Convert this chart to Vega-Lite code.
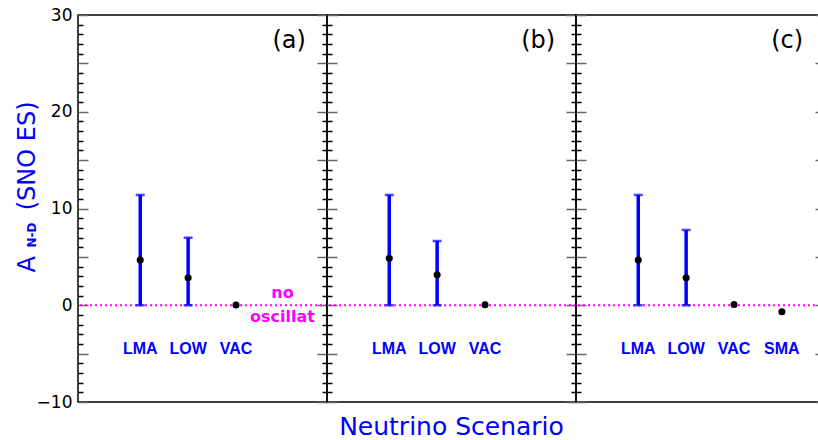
{
  "$schema": "https://vega.github.io/schema/vega-lite/v6.json",
  "autosize": {"type": "none"},
  "padding": {"left": 78, "top": 15, "right": 740, "bottom": 425},
  "background": "white",
  "config": {"view": {"stroke": "#000000", "strokeWidth": 1.5}, "font": "DejaVu Sans"},
  "title": {"text": "Neutrino Scenario", "orient": "bottom", "anchor": "middle", "frame": "group", "dx": 373.5, "color": "#0000ff", "font": "DejaVu Sans", "fontSize": 25, "fontWeight": "normal", "offset": 4},
  "spacing": 0,
  "bounds": "flush",
  "datasets": {
    "scen": [
      {"panel": "a", "scen": "LMA", "x": 1, "val": 4.68, "lo": 0, "hi": 11.4},
      {"panel": "a", "scen": "LOW", "x": 2, "val": 2.85, "lo": 0, "hi": 6.98},
      {"panel": "a", "scen": "VAC", "x": 3, "val": 0.03, "lo": null, "hi": null},
      {"panel": "b", "scen": "LMA", "x": 1, "val": 4.85, "lo": 0, "hi": 11.4},
      {"panel": "b", "scen": "LOW", "x": 2, "val": 3.16, "lo": 0, "hi": 6.64},
      {"panel": "b", "scen": "VAC", "x": 3, "val": 0.06, "lo": null, "hi": null},
      {"panel": "c", "scen": "LMA", "x": 1, "val": 4.68, "lo": 0, "hi": 11.4},
      {"panel": "c", "scen": "LOW", "x": 2, "val": 2.85, "lo": 0, "hi": 7.78},
      {"panel": "c", "scen": "VAC", "x": 3, "val": 0.08, "lo": null, "hi": null},
      {"panel": "c", "scen": "SMA", "x": 4, "val": -0.67, "lo": null, "hi": null}
    ],
    "panels": [
      {"panel": "a", "letter": "(a)"},
      {"panel": "b", "letter": "(b)"},
      {"panel": "c", "letter": "(c)"}
    ],
    "ref": [{"level": 0}],
    "notes": [{"note": "no\noscillat"}],
    "sub": [{"sub": "N-D"}]
  },
  "hconcat": [
    {
      "width": 249, "height": 387,
      "data": {"name": "scen"},
      "resolve": {"axis": {"y": "independent"}},
      "layer": [
        {
          "data": {"name": "ref"},
          "mark": {"type": "rule", "color": "#ff00ff", "strokeDash": [2, 3], "strokeWidth": 2},
          "encoding": {
            "y": {"field": "level", "type": "quantitative", "scale": {"domain": [-10, 30], "nice": false, "zero": false},
              "axis": {"orient": "left", "values": [-10,-9,-8,-7,-6,-5,-4,-3,-2,-1,0,1,2,3,4,5,6,7,8,9,10,11,12,13,14,15,16,17,18,19,20,21,22,23,24,25,26,27,28,29,30],
                "tickSize": {"condition": {"test": "datum.value % 5 === 0", "value": -10}, "value": -5},
                "tickColor": {"condition": {"test": "datum.value % 5 === 0", "value": "#666666"}, "value": "#000000"},
                "tickWidth": 1.5, "domain": false, "grid": false,
                "labelExpr": "datum.value % 10 === 0 ? datum.label : ''",
                "labelPadding": 16, "labelFont": "DejaVu Sans", "labelFontSize": 17, "labelColor": "#000000",
                "labelOverlap": false, "labelFlush": false, "labelBound": false,
                "title": "A\u00a0\u00a0\u00a0\u00a0\u00a0\u00a0(SNO ES)", "titleFont": "DejaVu Sans", "titleFontSize": 24, "titleFontWeight": "normal",
                "titleColor": "#0000ff", "titleAngle": 270, "titleX": -44, "titleY": 171.5, "titleAlign": "center", "titleBaseline": "alphabetic"}}
          }
        },
        {
          "transform": [{"filter": "datum.panel === 'a' && datum.hi != null"}],
          "mark": {"type": "rule", "color": "#0000ff", "strokeWidth": 3.5},
          "encoding": {
            "x": {"field": "x", "type": "quantitative", "scale": {"domain": [-0.3, 4.9], "nice": false, "zero": false}, "axis": null},
            "y": {"field": "lo", "type": "quantitative", "scale": {"domain": [-10, 30], "nice": false, "zero": false},
              "axis": {"orient": "right", "values": [-10,-9,-8,-7,-6,-5,-4,-3,-2,-1,0,1,2,3,4,5,6,7,8,9,10,11,12,13,14,15,16,17,18,19,20,21,22,23,24,25,26,27,28,29,30],
                "tickSize": {"condition": {"test": "datum.value % 5 === 0", "value": -10}, "value": -5},
                "tickColor": {"condition": {"test": "datum.value % 5 === 0", "value": "#666666"}, "value": "#000000"},
                "tickWidth": 1.5, "domain": false, "grid": false, "labels": false, "title": null}},
            "y2": {"field": "hi"}
          }
        },
        {
          "transform": [{"filter": "datum.panel === 'a' && datum.hi != null"}],
          "mark": {"type": "tick", "orient": "horizontal", "color": "#0000ff", "size": 9, "thickness": 2.5},
          "encoding": {
            "x": {"field": "x", "type": "quantitative", "scale": {"domain": [-0.3, 4.9], "nice": false, "zero": false}, "axis": null},
            "y": {"field": "hi", "type": "quantitative", "scale": {"domain": [-10, 30], "nice": false, "zero": false}, "axis": null}
          }
        },
        {
          "transform": [{"filter": "datum.panel === 'a' && datum.hi != null"}],
          "mark": {"type": "tick", "orient": "horizontal", "color": "#0000ff", "size": 9, "thickness": 2.5},
          "encoding": {
            "x": {"field": "x", "type": "quantitative", "scale": {"domain": [-0.3, 4.9], "nice": false, "zero": false}, "axis": null},
            "y": {"field": "lo", "type": "quantitative", "scale": {"domain": [-10, 30], "nice": false, "zero": false}, "axis": null}
          }
        },
        {
          "transform": [{"filter": "datum.panel === 'a'"}],
          "mark": {"type": "circle", "color": "#000000", "size": 50, "opacity": 1},
          "encoding": {
            "x": {"field": "x", "type": "quantitative", "scale": {"domain": [-0.3, 4.9], "nice": false, "zero": false}, "axis": null},
            "y": {"field": "val", "type": "quantitative", "scale": {"domain": [-10, 30], "nice": false, "zero": false}, "axis": null}
          }
        },
        {
          "transform": [{"filter": "datum.panel === 'a'"}],
          "mark": {"type": "text", "color": "#0000ff", "font": "Liberation Sans", "fontWeight": "bold", "fontSize": 16, "baseline": "alphabetic", "align": "center"},
          "encoding": {
            "x": {"field": "x", "type": "quantitative", "scale": {"domain": [-0.3, 4.9], "nice": false, "zero": false}, "axis": null},
            "y": {"datum": -5.04, "type": "quantitative", "scale": {"domain": [-10, 30], "nice": false, "zero": false}, "axis": null},
            "text": {"field": "scen"}
          }
        },
        {
          "data": {"name": "panels"},
          "transform": [{"filter": "datum.panel === 'a'"}],
          "mark": {"type": "text", "color": "#000000", "font": "DejaVu Sans", "fontSize": 24, "baseline": "alphabetic", "align": "center"},
          "encoding": {
            "x": {"datum": 4.11, "type": "quantitative", "scale": {"domain": [-0.3, 4.9], "nice": false, "zero": false}, "axis": null},
            "y": {"datum": 26.59, "type": "quantitative", "scale": {"domain": [-10, 30], "nice": false, "zero": false}, "axis": null},
            "text": {"field": "letter"}
          }
        },
        {
          "data": {"name": "notes"},
          "mark": {"type": "text", "color": "#ff00ff", "font": "DejaVu Sans", "fontWeight": "bold", "fontSize": 16, "baseline": "alphabetic", "align": "center", "lineBreak": "\n", "lineHeight": 24},
          "encoding": {
            "x": {"datum": 3.97, "type": "quantitative", "scale": {"domain": [-0.3, 4.9], "nice": false, "zero": false}, "axis": null},
            "y": {"datum": 0.75, "type": "quantitative", "scale": {"domain": [-10, 30], "nice": false, "zero": false}, "axis": null},
            "text": {"field": "note"}
          }
        },
        {
          "data": {"name": "sub"},
          "mark": {"type": "text", "color": "#0000ff", "font": "DejaVu Sans", "fontWeight": "bold", "fontSize": 12, "angle": 270, "baseline": "middle", "align": "center"},
          "encoding": {
            "x": {"datum": -1.26, "type": "quantitative", "scale": {"domain": [-0.3, 4.9], "nice": false, "zero": false}, "axis": null},
            "y": {"datum": 7.26, "type": "quantitative", "scale": {"domain": [-10, 30], "nice": false, "zero": false}, "axis": null},
            "text": {"field": "sub"}
          }
        }
      ]
    },
    {
      "width": 249, "height": 387,
      "data": {"name": "scen"},
      "resolve": {"axis": {"y": "independent"}},
      "layer": [
        {
          "data": {"name": "ref"},
          "mark": {"type": "rule", "color": "#ff00ff", "strokeDash": [2, 3], "strokeWidth": 2},
          "encoding": {
            "y": {"field": "level", "type": "quantitative", "scale": {"domain": [-10, 30], "nice": false, "zero": false},
              "axis": {"orient": "left", "values": [-10,-9,-8,-7,-6,-5,-4,-3,-2,-1,0,1,2,3,4,5,6,7,8,9,10,11,12,13,14,15,16,17,18,19,20,21,22,23,24,25,26,27,28,29,30],
                "tickSize": {"condition": {"test": "datum.value % 5 === 0", "value": -10}, "value": -5},
                "tickColor": {"condition": {"test": "datum.value % 5 === 0", "value": "#666666"}, "value": "#000000"},
                "tickWidth": 1.5, "domain": false, "grid": false, "labels": false, "title": null}}
          }
        },
        {
          "transform": [{"filter": "datum.panel === 'b' && datum.hi != null"}],
          "mark": {"type": "rule", "color": "#0000ff", "strokeWidth": 3.5},
          "encoding": {
            "x": {"field": "x", "type": "quantitative", "scale": {"domain": [-0.3, 4.9], "nice": false, "zero": false}, "axis": null},
            "y": {"field": "lo", "type": "quantitative", "scale": {"domain": [-10, 30], "nice": false, "zero": false},
              "axis": {"orient": "right", "values": [-10,-9,-8,-7,-6,-5,-4,-3,-2,-1,0,1,2,3,4,5,6,7,8,9,10,11,12,13,14,15,16,17,18,19,20,21,22,23,24,25,26,27,28,29,30],
                "tickSize": {"condition": {"test": "datum.value % 5 === 0", "value": -10}, "value": -5},
                "tickColor": {"condition": {"test": "datum.value % 5 === 0", "value": "#666666"}, "value": "#000000"},
                "tickWidth": 1.5, "domain": false, "grid": false, "labels": false, "title": null}},
            "y2": {"field": "hi"}
          }
        },
        {
          "transform": [{"filter": "datum.panel === 'b' && datum.hi != null"}],
          "mark": {"type": "tick", "orient": "horizontal", "color": "#0000ff", "size": 9, "thickness": 2.5},
          "encoding": {
            "x": {"field": "x", "type": "quantitative", "scale": {"domain": [-0.3, 4.9], "nice": false, "zero": false}, "axis": null},
            "y": {"field": "hi", "type": "quantitative", "scale": {"domain": [-10, 30], "nice": false, "zero": false}, "axis": null}
          }
        },
        {
          "transform": [{"filter": "datum.panel === 'b' && datum.hi != null"}],
          "mark": {"type": "tick", "orient": "horizontal", "color": "#0000ff", "size": 9, "thickness": 2.5},
          "encoding": {
            "x": {"field": "x", "type": "quantitative", "scale": {"domain": [-0.3, 4.9], "nice": false, "zero": false}, "axis": null},
            "y": {"field": "lo", "type": "quantitative", "scale": {"domain": [-10, 30], "nice": false, "zero": false}, "axis": null}
          }
        },
        {
          "transform": [{"filter": "datum.panel === 'b'"}],
          "mark": {"type": "circle", "color": "#000000", "size": 50, "opacity": 1},
          "encoding": {
            "x": {"field": "x", "type": "quantitative", "scale": {"domain": [-0.3, 4.9], "nice": false, "zero": false}, "axis": null},
            "y": {"field": "val", "type": "quantitative", "scale": {"domain": [-10, 30], "nice": false, "zero": false}, "axis": null}
          }
        },
        {
          "transform": [{"filter": "datum.panel === 'b'"}],
          "mark": {"type": "text", "color": "#0000ff", "font": "Liberation Sans", "fontWeight": "bold", "fontSize": 16, "baseline": "alphabetic", "align": "center"},
          "encoding": {
            "x": {"field": "x", "type": "quantitative", "scale": {"domain": [-0.3, 4.9], "nice": false, "zero": false}, "axis": null},
            "y": {"datum": -5.04, "type": "quantitative", "scale": {"domain": [-10, 30], "nice": false, "zero": false}, "axis": null},
            "text": {"field": "scen"}
          }
        },
        {
          "data": {"name": "panels"},
          "transform": [{"filter": "datum.panel === 'b'"}],
          "mark": {"type": "text", "color": "#000000", "font": "DejaVu Sans", "fontSize": 24, "baseline": "alphabetic", "align": "center"},
          "encoding": {
            "x": {"datum": 4.11, "type": "quantitative", "scale": {"domain": [-0.3, 4.9], "nice": false, "zero": false}, "axis": null},
            "y": {"datum": 26.59, "type": "quantitative", "scale": {"domain": [-10, 30], "nice": false, "zero": false}, "axis": null},
            "text": {"field": "letter"}
          }
        }
      ]
    },
    {
      "width": 249, "height": 387,
      "data": {"name": "scen"},
      "resolve": {"axis": {"y": "independent"}},
      "layer": [
        {
          "data": {"name": "ref"},
          "mark": {"type": "rule", "color": "#ff00ff", "strokeDash": [2, 3], "strokeWidth": 2},
          "encoding": {
            "y": {"field": "level", "type": "quantitative", "scale": {"domain": [-10, 30], "nice": false, "zero": false},
              "axis": {"orient": "left", "values": [-10,-9,-8,-7,-6,-5,-4,-3,-2,-1,0,1,2,3,4,5,6,7,8,9,10,11,12,13,14,15,16,17,18,19,20,21,22,23,24,25,26,27,28,29,30],
                "tickSize": {"condition": {"test": "datum.value % 5 === 0", "value": -10}, "value": -5},
                "tickColor": {"condition": {"test": "datum.value % 5 === 0", "value": "#666666"}, "value": "#000000"},
                "tickWidth": 1.5, "domain": false, "grid": false, "labels": false, "title": null}}
          }
        },
        {
          "transform": [{"filter": "datum.panel === 'c' && datum.hi != null"}],
          "mark": {"type": "rule", "color": "#0000ff", "strokeWidth": 3.5},
          "encoding": {
            "x": {"field": "x", "type": "quantitative", "scale": {"domain": [-0.3, 4.9], "nice": false, "zero": false}, "axis": null},
            "y": {"field": "lo", "type": "quantitative", "scale": {"domain": [-10, 30], "nice": false, "zero": false},
              "axis": {"orient": "right", "values": [-10,-5,0,5,10,15,20,25,30],
                "tickSize": -10,
                "tickColor": "#666666",
                "tickWidth": 1.5, "domain": false, "grid": false, "labels": false, "title": null}},
            "y2": {"field": "hi"}
          }
        },
        {
          "transform": [{"filter": "datum.panel === 'c' && datum.hi != null"}],
          "mark": {"type": "tick", "orient": "horizontal", "color": "#0000ff", "size": 9, "thickness": 2.5},
          "encoding": {
            "x": {"field": "x", "type": "quantitative", "scale": {"domain": [-0.3, 4.9], "nice": false, "zero": false}, "axis": null},
            "y": {"field": "hi", "type": "quantitative", "scale": {"domain": [-10, 30], "nice": false, "zero": false}, "axis": null}
          }
        },
        {
          "transform": [{"filter": "datum.panel === 'c' && datum.hi != null"}],
          "mark": {"type": "tick", "orient": "horizontal", "color": "#0000ff", "size": 9, "thickness": 2.5},
          "encoding": {
            "x": {"field": "x", "type": "quantitative", "scale": {"domain": [-0.3, 4.9], "nice": false, "zero": false}, "axis": null},
            "y": {"field": "lo", "type": "quantitative", "scale": {"domain": [-10, 30], "nice": false, "zero": false}, "axis": null}
          }
        },
        {
          "transform": [{"filter": "datum.panel === 'c'"}],
          "mark": {"type": "circle", "color": "#000000", "size": 50, "opacity": 1},
          "encoding": {
            "x": {"field": "x", "type": "quantitative", "scale": {"domain": [-0.3, 4.9], "nice": false, "zero": false}, "axis": null},
            "y": {"field": "val", "type": "quantitative", "scale": {"domain": [-10, 30], "nice": false, "zero": false}, "axis": null}
          }
        },
        {
          "transform": [{"filter": "datum.panel === 'c'"}],
          "mark": {"type": "text", "color": "#0000ff", "font": "Liberation Sans", "fontWeight": "bold", "fontSize": 16, "baseline": "alphabetic", "align": "center"},
          "encoding": {
            "x": {"field": "x", "type": "quantitative", "scale": {"domain": [-0.3, 4.9], "nice": false, "zero": false}, "axis": null},
            "y": {"datum": -5.04, "type": "quantitative", "scale": {"domain": [-10, 30], "nice": false, "zero": false}, "axis": null},
            "text": {"field": "scen"}
          }
        },
        {
          "data": {"name": "panels"},
          "transform": [{"filter": "datum.panel === 'c'"}],
          "mark": {"type": "text", "color": "#000000", "font": "DejaVu Sans", "fontSize": 24, "baseline": "alphabetic", "align": "center"},
          "encoding": {
            "x": {"datum": 4.11, "type": "quantitative", "scale": {"domain": [-0.3, 4.9], "nice": false, "zero": false}, "axis": null},
            "y": {"datum": 26.59, "type": "quantitative", "scale": {"domain": [-10, 30], "nice": false, "zero": false}, "axis": null},
            "text": {"field": "letter"}
          }
        }
      ]
    }
  ]
}
